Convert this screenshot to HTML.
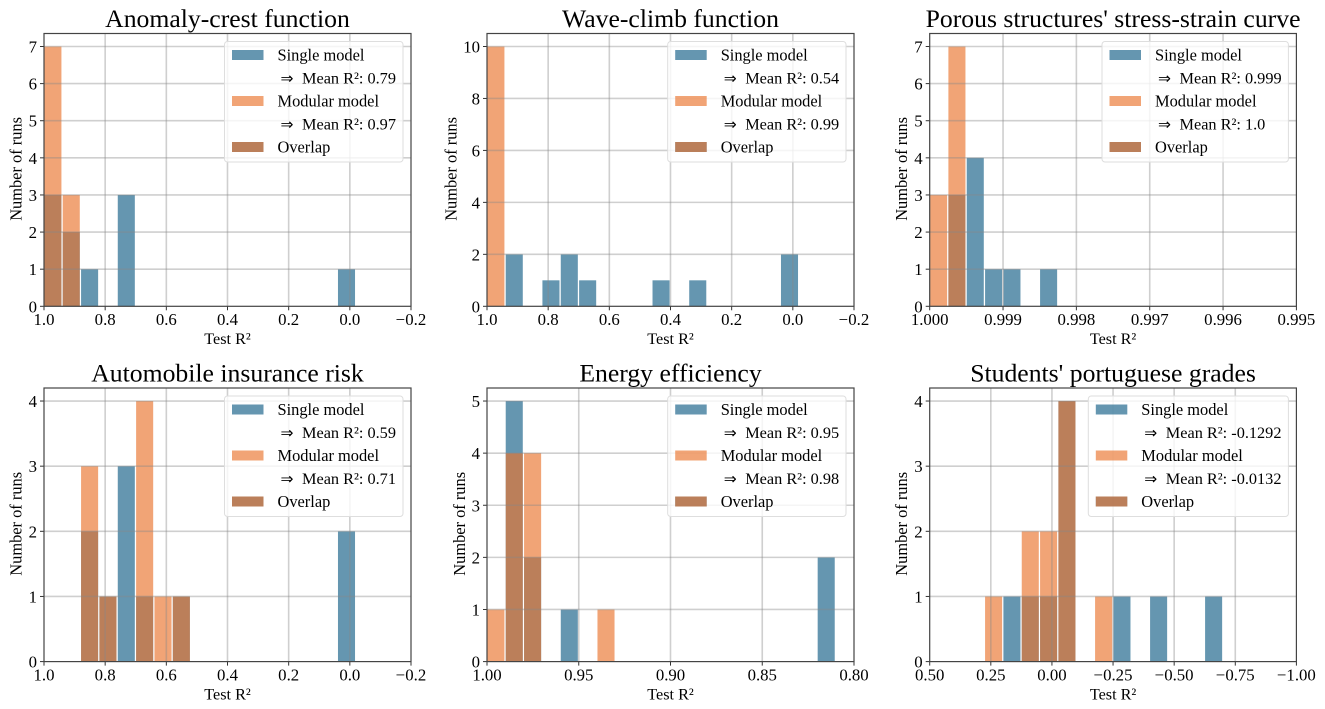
<!DOCTYPE html>
<html lang="en">
<head>
<meta charset="utf-8">
<title>Test R² histograms: single vs modular model</title>
<style>
html,body{margin:0;padding:0;background:#fff;width:1325px;height:709px;overflow:hidden}
svg{display:block;font-family:"Liberation Serif",serif;fill:#000;filter:blur(0.3px)}
</style>
</head>
<body>
<svg id="figure" xmlns="http://www.w3.org/2000/svg" width="1325" height="709" viewBox="0 0 1325 709"></svg>
<script>
// ---- Panel 1: Anomaly-crest function
const anomalySingle  = [3,2,1,0,3,0,0,0,0,0,0,0,0,0,0,0,1,0,0,0];
const anomalyModular = [7,3,0,0,0,0,0,0,0,0,0,0,0,0,0,0,0,0,0,0];
const anomalyDomain  = [1.0,-0.2];
const anomalyXTicks  = [1.0,0.8,0.6,0.4,0.2,0.0,-0.2];
const anomalyXLabels = ["1.0","0.8","0.6","0.4","0.2","0.0","−0.2"];
const anomalyYTicks  = [0,1,2,3,4,5,6,7];
const anomalyMeans   = ["0.79","0.97"];
// ---- Panel 2: Wave-climb function
const waveSingle  = [0,2,0,1,2,1,0,0,0,1,0,1,0,0,0,0,2,0,0,0];
const waveModular = [10,0,0,0,0,0,0,0,0,0,0,0,0,0,0,0,0,0,0,0];
const waveDomain  = [1.0,-0.2];
const waveXTicks  = [1.0,0.8,0.6,0.4,0.2,0.0,-0.2];
const waveXLabels = ["1.0","0.8","0.6","0.4","0.2","0.0","−0.2"];
const waveYTicks  = [0,2,4,6,8,10];
const waveMeans   = ["0.54","0.99"];
// ---- Panel 3: Porous structures' stress-strain curve
const porousSingle  = [0,3,4,1,1,0,1,0,0,0,0,0,0,0,0,0,0,0,0,0];
const porousModular = [3,7,0,0,0,0,0,0,0,0,0,0,0,0,0,0,0,0,0,0];
const porousDomain  = [1.0,0.995];
const porousXTicks  = [1.0,0.999,0.998,0.997,0.996,0.995];
const porousXLabels = ["1.000","0.999","0.998","0.997","0.996","0.995"];
const porousYTicks  = [0,1,2,3,4,5,6,7];
const porousMeans   = ["0.999","1.0"];
// ---- Panel 4: Automobile insurance risk
const autoSingle  = [0,0,2,1,3,1,0,1,0,0,0,0,0,0,0,0,2,0,0,0];
const autoModular = [0,0,3,1,0,4,1,1,0,0,0,0,0,0,0,0,0,0,0,0];
const autoDomain  = [1.0,-0.2];
const autoXTicks  = [1.0,0.8,0.6,0.4,0.2,0.0,-0.2];
const autoXLabels = ["1.0","0.8","0.6","0.4","0.2","0.0","−0.2"];
const autoYTicks  = [0,1,2,3,4];
const autoMeans   = ["0.59","0.71"];
// ---- Panel 5: Energy efficiency
const energySingle  = [0,5,2,0,1,0,0,0,0,0,0,0,0,0,0,0,0,0,2,0];
const energyModular = [1,4,4,0,0,0,1,0,0,0,0,0,0,0,0,0,0,0,0,0];
const energyDomain  = [1.0,0.8];
const energyXTicks  = [1.0,0.95,0.9,0.85,0.8];
const energyXLabels = ["1.00","0.95","0.90","0.85","0.80"];
const energyYTicks  = [0,1,2,3,4,5];
const energyMeans   = ["0.95","0.98"];
// ---- Panel 6: Students' portuguese grades
const studentsSingle  = [0,0,0,0,1,1,1,4,0,0,1,0,1,0,0,1,0,0,0,0];
const studentsModular = [0,0,0,1,0,2,2,4,0,1,0,0,0,0,0,0,0,0,0,0];
const studentsDomain  = [0.5,-1.0];
const studentsXTicks  = [0.5,0.25,0,-0.25,-0.5,-0.75,-1.0];
const studentsXLabels = ["0.50","0.25","0.00","−0.25","−0.50","−0.75","−1.00"];
const studentsYTicks  = [0,1,2,3,4];
const studentsMeans   = ["-0.1292","-0.0132"];

const NS = "http://www.w3.org/2000/svg";
const svg = document.getElementById("figure");
const SINGLE = "#125e86", MODULAR = "#ea732c", ALPHA = 0.65;

function make(parent, tag, attrs, text) {
  const el = document.createElementNS(NS, tag);
  for (const k in attrs) el.setAttribute(k, attrs[k]);
  if (text !== undefined) el.textContent = text;
  parent.appendChild(el);
  return el;
}

function drawPanel(o) {
  const g = make(svg, "g", {});
  
  
  const L = o.box[0], R = o.box[1], T = o.box[2], B = o.box[3];
  const xScale = v => L + (v - o.domain[0]) / (o.domain[1] - o.domain[0]) * (R - L);
  const maxCount = Math.max(Math.max.apply(null, o.single), Math.max.apply(null, o.modular));
  const yScale = v => B - v / (maxCount * 1.05) * (B - T);
  const binSize = (o.domain[1] - o.domain[0]) / o.single.length;
  const gridStyle = {stroke: "#888", "stroke-opacity": 0.4, "stroke-width": 1.6};

  function bars(series, color, name) {
    series.forEach((count, i) => {
      if (!count) return;
      const x0 = xScale(o.domain[0] + i * binSize);
      const x1 = xScale(o.domain[0] + (i + 1) * binSize);
      const w = x1 - x0;
      const bar = make(g, "rect", {
        x: x0 + w * 0.02, y: yScale(count), width: w * 0.93, height: B - yScale(count),
        fill: color, "fill-opacity": ALPHA
      });
      
      
    });
  }
  bars(o.single, SINGLE, 'single-model-bar');
  bars(o.modular, MODULAR, 'modular-model-bar');

  // translucent gridlines sit above the histogram patches
  o.xTicks.forEach((t, i) => {
    const x = xScale(t);
    if (i > 0 && i < o.xTicks.length - 1) {
      const line = make(g, "line", Object.assign({x1: x, x2: x, y1: T, y2: B}, gridStyle));
      
      
    }
    const tick = make(g, "line", {x1: x, x2: x, y1: B, y2: B + 4, stroke: "#333", "stroke-width": 1});
    
    
    const label = make(g, "text", {x: x, y: 325 + o.dy, "text-anchor": "middle", "font-size": 16.8}, o.xLabels[i]);
    
    
  });
  o.yTicks.forEach(t => {
    const y = yScale(t);
    if (t !== 0) {
      const line = make(g, "line", Object.assign({x1: L, x2: R, y1: y, y2: y}, gridStyle));
      
      
    }
    const tick = make(g, "line", {x1: L - 4, x2: L, y1: y, y2: y, stroke: "#333", "stroke-width": 1});
    
    
    const label = make(g, "text", {x: L - 7, y: y + 6, "text-anchor": "end", "font-size": 16.8}, String(t));
    
    
  });

  const frame = make(g, "rect", {x: L, y: T, width: R - L, height: B - T, fill: "none", stroke: "#444", "stroke-width": 1.2});
  
  

  const title = make(g, "text", {x: (L + R) / 2, y: T - 6.5, "text-anchor": "middle", "font-size": 25.7}, o.title);
  
  

  const xTitle = make(g, "text", {x: (L + R) / 2, y: 344 + o.dy, "text-anchor": "middle", "font-size": 16.2}, "Test R²");
  
  

  const yMid = (T + B) / 2 - 1;
  const yTitle = make(g, "text", {x: o.yTitleX, y: yMid, "text-anchor": "middle", "font-size": 16.4,
    transform: "rotate(-90 " + o.yTitleX + " " + yMid + ")"}, "Number of runs");
  
  

  // legend
  const lg = make(g, "g", {});
  
  
  const lx = o.legendLeft, lr = R - 8, ly = T + 8;
  make(lg, "rect", {x: lx, y: ly, width: lr - lx, height: 120.5, rx: 3, ry: 3,
    fill: "#fff", "fill-opacity": 0.8, stroke: "#dedede", "stroke-width": 1});
  const hx = lx + 7.5, tx = lx + 53, ax = lx + 56, mx = lx + 77.5;
  const rows = [ly + 13.5, ly + 36.5, ly + 59.5, ly + 82.5, ly + 105.5];

  function handle(cy, colors, name) {
    colors.forEach(c => {
      const h = make(lg, "rect", {x: hx, y: cy - 5, width: 31.5, height: 10, fill: c, "fill-opacity": ALPHA});
      
      
    });
  }
  function entry(x, cy, s, name, size) {
    const t = make(lg, "text", {x: x, y: cy + 5.5, "font-size": size}, s);
    
    
  }
  function meanRow(cy, value, name) {
    const a = make(lg, "text", {x: ax, y: cy + 5.5, "font-size": 15.5, style: 'font-family:"DejaVu Sans",sans-serif'}, "⇒");
    
    
    entry(mx, cy, "Mean R²: " + value, name, 16.3);
  }
  handle(rows[0], [SINGLE], 'legend-swatch-single');
  entry(tx, rows[0], "Single model", 'legend-entry-single', 16.4);
  meanRow(rows[1], o.means[0], 'legend-mean-single');
  handle(rows[2], [MODULAR], 'legend-swatch-modular');
  entry(tx, rows[2], "Modular model", 'legend-entry-modular', 16.4);
  meanRow(rows[3], o.means[1], 'legend-mean-modular');
  handle(rows[4], [SINGLE, MODULAR], 'legend-swatch-overlap');
  entry(tx, rows[4], "Overlap", 'legend-entry-overlap', 16.4);
}

const TOP = [33.5, 306.3], BOTTOM = [388, 661.6];
drawPanel({title:"Anomaly-crest function", box:[44,411,TOP[0],TOP[1]], dy:0, yTitleX:21.5, legendLeft:224.5,
  single:anomalySingle, modular:anomalyModular, domain:anomalyDomain, xTicks:anomalyXTicks, xLabels:anomalyXLabels, yTicks:anomalyYTicks, means:anomalyMeans});
drawPanel({title:"Wave-climb function", box:[487,854,TOP[0],TOP[1]], dy:0, yTitleX:456.5, legendLeft:667.7,
  single:waveSingle, modular:waveModular, domain:waveDomain, xTicks:waveXTicks, xLabels:waveXLabels, yTicks:waveYTicks, means:waveMeans});
drawPanel({title:"Porous structures' stress-strain curve", box:[929.7,1296.4,TOP[0],TOP[1]], dy:0, yTitleX:907, legendLeft:1102,
  single:porousSingle, modular:porousModular, domain:porousDomain, xTicks:porousXTicks, xLabels:porousXLabels, yTicks:porousYTicks, means:porousMeans});
drawPanel({title:"Automobile insurance risk", box:[44,411,BOTTOM[0],BOTTOM[1]], dy:355.3, yTitleX:21.5, legendLeft:224.5,
  single:autoSingle, modular:autoModular, domain:autoDomain, xTicks:autoXTicks, xLabels:autoXLabels, yTicks:autoYTicks, means:autoMeans});
drawPanel({title:"Energy efficiency", box:[487,854,BOTTOM[0],BOTTOM[1]], dy:355.3, yTitleX:465, legendLeft:667.7,
  single:energySingle, modular:energyModular, domain:energyDomain, xTicks:energyXTicks, xLabels:energyXLabels, yTicks:energyYTicks, means:energyMeans});
drawPanel({title:"Students' portuguese grades", box:[929.7,1296.4,BOTTOM[0],BOTTOM[1]], dy:355.3, yTitleX:907, legendLeft:1088.3,
  single:studentsSingle, modular:studentsModular, domain:studentsDomain, xTicks:studentsXTicks, xLabels:studentsXLabels, yTicks:studentsYTicks, means:studentsMeans});
</script>
</body>
</html>
